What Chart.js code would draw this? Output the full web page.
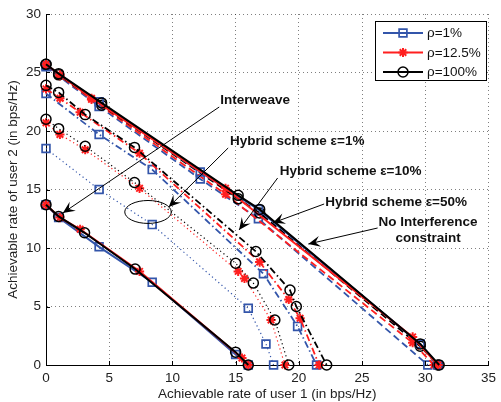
<!DOCTYPE html>
<html><head><meta charset="utf-8">
<script src="https://cdn.jsdelivr.net/npm/chart.js@4.4.1/dist/chart.umd.min.js"></script>
<style>html,body{margin:0;padding:0;background:#fff;}canvas{display:block;}</style>
</head><body>
<canvas id="c" width="501" height="402"></canvas>
<script>
// ---------- data ----------
const xTickValues = [0, 5, 10, 15, 20, 25, 30, 35];
const yTickValues = [0, 5, 10, 15, 20, 25, 30];
const legendLabels = ['ρ=1%', 'ρ=12.5%', 'ρ=100%'];
const xTitle = 'Achievable rate of user 1 (in bps/Hz)';
const yTitle = 'Achievable rate of user 2 (in bps/Hz)';

// No interference constraint (solid)
const niBlue  = [[0,25.6],[4.2,22.5],[12.2,16.5],[16.8,13.3],[29.6,1.8],[31.0,0]];
const niRed   = [[0,25.7],[1.1,24.8],[3.6,22.8],[14.2,15.1],[29.0,2.4],[31.0,0]];
const niBlack = [[0,25.7],[1.0,24.9],[4.4,22.4],[15.2,14.5],[16.9,13.3],[29.6,1.8],[31.1,0]];
// Hybrid scheme eps=50% (dashed)
const h50Blue  = [[0,25.5],[4.2,22.1],[12.2,15.9],[16.8,12.5],[30.2,0]];
const h50Red   = [[0,25.6],[1.1,24.7],[3.6,22.7],[14.2,14.6],[29.0,1.9],[30.7,0]];
const h50Black = [[0,25.7],[1.0,24.8],[4.4,22.2],[15.2,14.2],[16.9,13.0],[29.6,1.6],[31.0,0]];
// Hybrid scheme eps=10% (dash-dot)
const h10Blue  = [[0,23.2],[4.2,19.7],[8.4,16.7],[17.2,7.8],[19.9,3.3],[21.4,0]];
const h10Red   = [[0,23.6],[1.1,22.8],[2.7,21.6],[7.4,18.1],[16.9,8.8],[19.2,5.6],[20.1,4.0],[21.6,0]];
const h10Black = [[0,23.9],[1.0,23.3],[3.1,21.4],[7.0,18.6],[16.6,9.7],[19.3,6.4],[19.8,5.0],[22.2,0]];
// Hybrid scheme eps=1% (dotted)
const h1Blue  = [[0,18.5],[4.2,15.0],[8.4,12.0],[16.0,4.85],[17.4,1.8],[18.0,0]];
const h1Red   = [[0,20.7],[1.1,19.7],[3.1,18.4],[7.4,15.1],[15.2,8.0],[15.7,7.4],[17.8,3.85],[18.9,0]];
const h1Black = [[0,21.0],[1.0,20.2],[3.1,18.7],[7.0,15.6],[15.0,8.7],[16.4,7.0],[18.1,3.85],[19.2,0]];
// Interweave (solid)
const iwBlue  = [[0,13.7],[1.0,12.6],[4.2,10.1],[8.4,7.07],[15.0,0.9],[16.0,0]];
const iwRed   = [[0,13.7],[1.1,12.6],[2.7,11.6],[7.4,8.0],[15.5,0.6],[16.0,0]];
const iwBlack = [[0,13.7],[1.0,12.7],[3.05,11.3],[7.05,8.2],[15.0,1.1],[16.0,0]];

// annotations (data units)
const annTexts = [
  {t:'Interweave', x:13.78, y:22.65, align:'left'},
  {t:'Hybrid scheme ε=1%', x:14.56, y:19.15, align:'left'},
  {t:'Hybrid scheme ε=10%', x:18.48, y:16.58, align:'left'},
  {t:'Hybrid scheme ε=50%', x:22.08, y:13.93, align:'left'},
  {t:'No Interference', x:30.22, y:12.22, align:'center'},
  {t:'constraint', x:30.22, y:10.85, align:'center'}
];
const annArrows = [
  [13.70,22.05, 1.33,12.99],
  [14.41,18.55, 9.71,13.50],
  [18.32,15.98, 15.27,11.54],
  [22.00,13.76, 17.95,12.15],
  [26.23,11.71, 20.75,10.34]
];
const annEllipse = {x:8.07, y:13.08, rx:1.84, ry:0.98};

// ---------- styles ----------
const FONT = '"Liberation Sans", Arial, Helvetica, sans-serif';
const BLUE = '#3355aa', RED = '#ff1f1f', BLACK = '#000000';
const MK = {
  blue:  {color:BLUE,  ps:'rect',   r:5.5, pbw:1.7},
  red:   {color:RED,   ps:'star',   r:4.6, pbw:2.0},
  black: {color:BLACK, ps:'circle', r:5.0, pbw:1.5}
};
const SOLID = [], DASH = [7,4], DASHDOT = [7,3,1.5,3], DOT = [1.2,3];

function ds(pts, m, dash, w) {
  return {
    data: pts.map(p => ({x:p[0], y:p[1]})),
    borderColor: m.color, borderWidth: w, borderDash: dash,
    pointStyle: m.ps, pointRadius: m.r, pointBorderWidth: m.pbw,
    pointBorderColor: m.color, pointBackgroundColor: 'rgba(0,0,0,0)',
    pointHoverRadius: m.r, fill: false, tension: 0, clip: false
  };
}

const datasets = [
  ds(niBlack, MK.black, SOLID, 2), ds(niRed, MK.red, SOLID, 2), ds(niBlue, MK.blue, SOLID, 2),
  ds(iwBlack, MK.black, SOLID, 2), ds(iwRed, MK.red, SOLID, 2), ds(iwBlue, MK.blue, SOLID, 2),
  ds(h50Black, MK.black, DASH, 1.8), ds(h50Red, MK.red, DASH, 1.8), ds(h50Blue, MK.blue, DASH, 1.8),
  ds(h10Black, MK.black, DASHDOT, 1.8), ds(h10Red, MK.red, DASHDOT, 1.8), ds(h10Blue, MK.blue, DASHDOT, 1.8),
  ds(h1Black, MK.black, DOT, 1.2), ds(h1Red, MK.red, DOT, 1.2), ds(h1Blue, MK.blue, DOT, 1.2)
];

function drawMarker(ctx, m, x, y) {
  ctx.save();
  ctx.strokeStyle = m.color; ctx.lineWidth = m.pbw; ctx.setLineDash([]);
  ctx.beginPath();
  if (m.ps === 'rect') {
    const s = Math.SQRT1_2 * m.r; ctx.rect(x - s, y - s, 2*s, 2*s);
  } else if (m.ps === 'circle') {
    ctx.arc(x, y, m.r, 0, Math.PI*2);
  } else {
    const r = m.r, d = r*Math.SQRT1_2;
    ctx.moveTo(x - r, y); ctx.lineTo(x + r, y);
    ctx.moveTo(x, y - r); ctx.lineTo(x, y + r);
    ctx.moveTo(x - d, y - d); ctx.lineTo(x + d, y + d);
    ctx.moveTo(x - d, y + d); ctx.lineTo(x + d, y - d);
  }
  ctx.stroke();
  ctx.restore();
}

const overlay = {
  id: 'overlay',
  afterDraw(chart) {
    const ctx = chart.ctx, xs = chart.scales.x, ys = chart.scales.y, a = chart.chartArea;
    ctx.save();
    // inward tick marks
    ctx.strokeStyle = '#000'; ctx.lineWidth = 1; ctx.setLineDash([]);
    ctx.beginPath();
    xTickValues.forEach(v => { const px = Math.round(xs.getPixelForValue(v)) + 0.5; ctx.moveTo(px, a.bottom); ctx.lineTo(px, a.bottom - 4); });
    yTickValues.forEach(v => { const py = Math.round(ys.getPixelForValue(v)) + 0.5; ctx.moveTo(a.left, py); ctx.lineTo(a.left + 4, py); });
    ctx.stroke();

    // axis titles
    ctx.fillStyle = '#222';
    ctx.font = '13.5px ' + FONT;
    ctx.textAlign = 'center'; ctx.textBaseline = 'middle';
    ctx.fillText(xTitle, (a.left + a.right)/2, 394);
    ctx.save();
    ctx.translate(13, (a.top + a.bottom)/2);
    ctx.rotate(-Math.PI/2);
    ctx.fillText(yTitle, 0, 0);
    ctx.restore();

    // annotations
    ctx.fillStyle = '#111';
    ctx.font = 'bold 13.5px ' + FONT;
    annTexts.forEach(o => {
      ctx.textAlign = o.align;
      ctx.fillText(o.t, xs.getPixelForValue(o.x), ys.getPixelForValue(o.y));
    });
    ctx.strokeStyle = '#000'; ctx.fillStyle = '#000'; ctx.lineWidth = 1;
    annArrows.forEach(r => {
      const x1 = xs.getPixelForValue(r[0]), y1 = ys.getPixelForValue(r[1]);
      const x2 = xs.getPixelForValue(r[2]), y2 = ys.getPixelForValue(r[3]);
      ctx.beginPath(); ctx.moveTo(x1, y1); ctx.lineTo(x2, y2); ctx.stroke();
      const ang = Math.atan2(y2 - y1, x2 - x1), L = 12, W = 5.5;
      const c = Math.cos(ang), s = Math.sin(ang);
      const bx = x2 - L*c, by = y2 - L*s, nx = x2 - 0.6*L*c, ny = y2 - 0.6*L*s;
      ctx.beginPath();
      ctx.moveTo(x2, y2);
      ctx.lineTo(bx - W*s, by + W*c);
      ctx.lineTo(nx, ny);
      ctx.lineTo(bx + W*s, by - W*c);
      ctx.closePath(); ctx.fill();
    });
    const ex = xs.getPixelForValue(annEllipse.x), ey = ys.getPixelForValue(annEllipse.y);
    const erx = Math.abs(xs.getPixelForValue(annEllipse.x + annEllipse.rx) - ex);
    const ery = Math.abs(ys.getPixelForValue(annEllipse.y + annEllipse.ry) - ey);
    ctx.beginPath(); ctx.ellipse(ex, ey, erx, ery, 0, 0, Math.PI*2); ctx.stroke();

    // legend
    const lx = 375.5, ly = 21.5, lw = 111, lh = 59;
    ctx.fillStyle = '#fff'; ctx.fillRect(lx, ly, lw, lh);
    ctx.strokeStyle = '#000'; ctx.lineWidth = 1; ctx.strokeRect(lx, ly, lw, lh);
    const mks = [MK.blue, MK.red, MK.black];
    ctx.font = '13.5px ' + FONT; ctx.textAlign = 'left'; ctx.textBaseline = 'middle';
    legendLabels.forEach((t, i) => {
      const yy = 33 + i*19.5;
      ctx.strokeStyle = mks[i].color; ctx.lineWidth = 2;
      ctx.beginPath(); ctx.moveTo(383, yy); ctx.lineTo(423, yy); ctx.stroke();
      drawMarker(ctx, mks[i], 403, yy);
      ctx.fillStyle = '#111';
      ctx.fillText(t, 427, yy + 0.5);
    });
    ctx.restore();
  }
};

new Chart(document.getElementById('c'), {
  type: 'line',
  data: { datasets },
  plugins: [overlay],
  options: {
    responsive: false, animation: false, devicePixelRatio: 1,
    layout: { padding: { left: 0, right: 8, top: 14, bottom: 0 } },
    plugins: { legend: { display: false }, tooltip: { enabled: false } },
    events: [],
    scales: {
      x: {
        type: 'linear', min: 0, max: 35,
        afterFit(s) { s.height = 37; },
        afterBuildTicks(s) { s.ticks = xTickValues.map(v => ({value: v})); },
        ticks: { font: { size: 13.5, family: FONT }, color: '#222', padding: 5, maxRotation: 0 },
        grid: { color: 'rgba(0,0,0,0.5)', lineWidth: 1, drawTicks: false },
        border: { display: true, color: '#000', width: 1, dash: [1, 3] }
      },
      y: {
        type: 'linear', min: 0, max: 30,
        afterFit(s) { s.width = 46; },
        afterBuildTicks(s) { s.ticks = yTickValues.map(v => ({value: v})); },
        ticks: { font: { size: 13.5, family: FONT }, color: '#222', padding: 5 },
        grid: { color: 'rgba(0,0,0,0.5)', lineWidth: 1, drawTicks: false },
        border: { display: true, color: '#000', width: 1, dash: [1, 3] }
      }
    }
  }
});
</script>
</body></html>
